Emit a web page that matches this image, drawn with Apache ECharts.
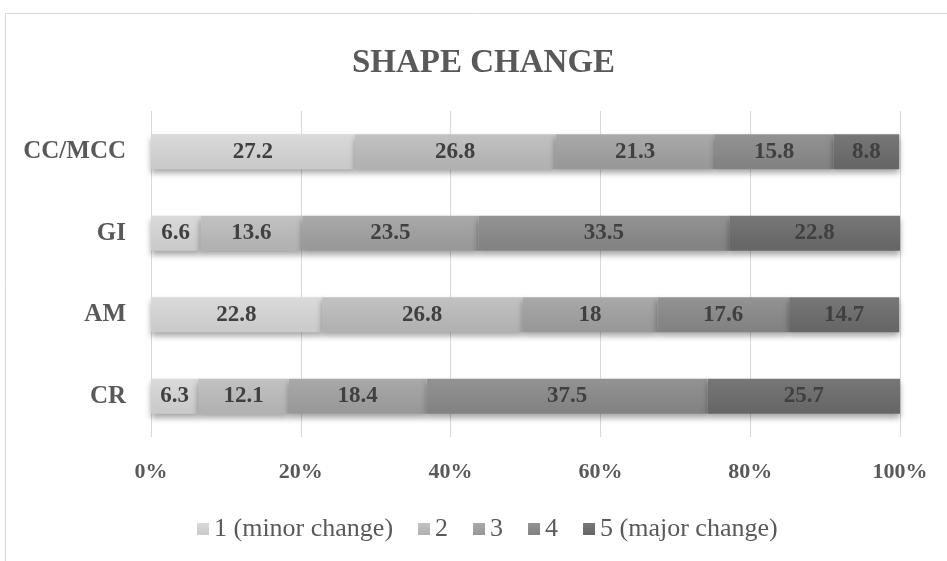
<!DOCTYPE html>
<html>
<head>
<meta charset="utf-8">
<script src="https://cdn.jsdelivr.net/npm/echarts@6/dist/echarts.min.js"></script>
<style>
  html, body { margin: 0; padding: 0; background: #ffffff; }
  #chart { width: 947px; height: 561px; }
</style>
</head>
<body>
<div id="chart"></div>
<script>
// Study groups, top to bottom
const categories = ['CC/MCC', 'GI', 'AM', 'CR'];

// Share of responses per rating (percent)
const rating1 = [27.2, 6.6, 22.8, 6.3];
const rating2 = [26.8, 13.6, 26.8, 12.1];
const rating3 = [21.3, 23.5, 18, 18.4];
const rating4 = [15.8, 33.5, 17.6, 37.5];
const rating5 = [8.8, 22.8, 14.7, 25.7];

const seriesNames = ['1 (minor change)', '2', '3', '4', '5 (major change)'];
const seriesData = [rating1, rating2, rating3, rating4, rating5];

const xTicks = [0, 20, 40, 60, 80, 100];

const FONT = '"Liberation Serif", "Times New Roman", serif';
const fills = [
  ['#dadada', '#cbcbcb', '#d4d4d4'],
  ['#c2c2c2', '#b2b2b2', '#bcbcbc'],
  ['#a9a9a9', '#999999', '#a3a3a3'],
  ['#939393', '#838383', '#8e8e8e'],
  ['#777777', '#676767', '#727272']
];

function gradient(c) {
  return new echarts.graphic.LinearGradient(0, 0, 0, 1, [
    { offset: 0, color: c[0] },
    { offset: 0.85, color: c[1] },
    { offset: 1, color: c[1] }
  ]);
}

const chart = echarts.init(document.getElementById('chart'), null, { renderer: 'canvas' });

chart.setOption({
  animation: false,
  backgroundColor: '#ffffff',
  color: fills.map(c => c[2]),
  title: {
    text: 'SHAPE CHANGE',
    left: 347,
    top: 42,
    textStyle: { fontFamily: FONT, fontSize: 33, fontWeight: 'bold', color: '#595959' }
  },
  graphic: [{
    type: 'polyline',
    silent: true,
    shape: { points: [[5.5, 561], [5.5, 13.5], [947, 13.5]] },
    style: { fill: null, stroke: '#d9d9d9', lineWidth: 1 }
  }],
  grid: { left: 151, right: 47, top: 111, bottom: 124 },
  legend: {
    data: seriesNames,
    bottom: 14,
    left: 192,
    icon: 'rect',
    itemWidth: 12,
    itemHeight: 12,
    itemGap: 25,
    textStyle: { fontFamily: FONT, fontSize: 26, color: '#595959' }
  },
  xAxis: {
    type: 'value',
    min: xTicks[0],
    max: xTicks[xTicks.length - 1],
    interval: xTicks[1] - xTicks[0],
    axisLine: { show: false },
    axisTick: { show: false },
    splitLine: { lineStyle: { color: '#d9d9d9', width: 1 } },
    axisLabel: {
      margin: 24,
      formatter: v => v + '%',
      fontFamily: FONT, fontSize: 22, fontWeight: 'bold', color: '#595959'
    }
  },
  yAxis: {
    type: 'category',
    inverse: true,
    data: categories,
    axisLine: { show: false },
    axisTick: { show: false },
    axisLabel: {
      margin: 25,
      fontFamily: FONT, fontSize: 25, fontWeight: 'bold', color: '#595959'
    }
  },
  series: seriesData.map((vals, i) => ({
    name: seriesNames[i],
    type: 'bar',
    stack: 'total',
    barWidth: '43%',
    data: vals,
    itemStyle: {
      color: gradient(fills[i]),
      shadowColor: 'rgba(0,0,0,0.35)',
      shadowBlur: 6,
      shadowOffsetY: 4
    },
    label: {
      show: true,
      position: 'inside',
      fontFamily: FONT, fontSize: 23, fontWeight: 'bold', color: '#404040'
    }
  }))
});
</script>
</body>
</html>
